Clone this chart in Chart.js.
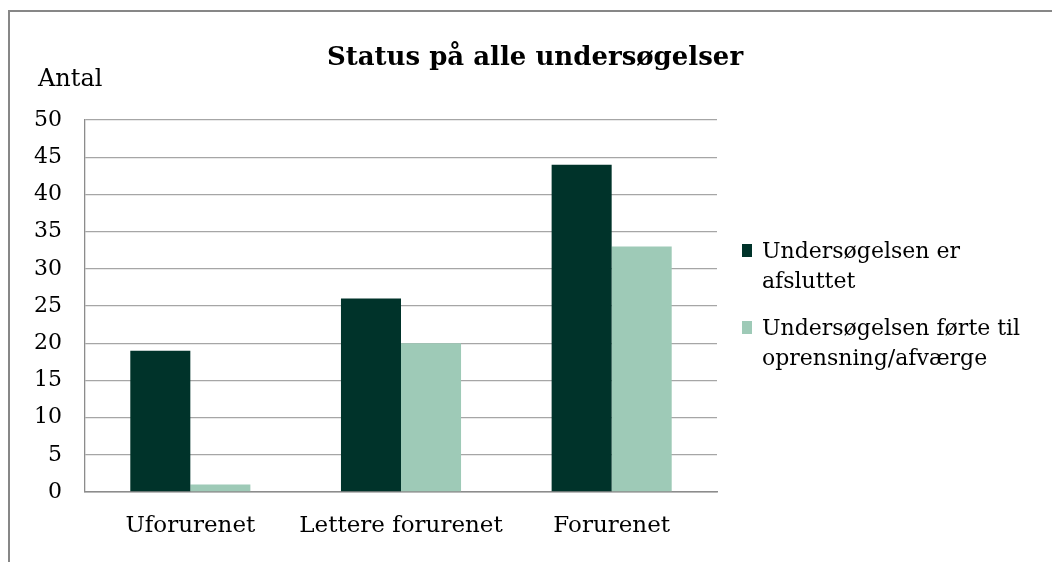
<!DOCTYPE html>
<html>
<head>
<meta charset="utf-8">
<script src="https://cdn.jsdelivr.net/npm/chart.js@4/dist/chart.umd.min.js"></script>
<style>
  html, body { margin: 0; padding: 0; background: #ffffff; }
  #wrap { width: 1052px; height: 562px; position: relative; }
</style>
</head>
<body>
<div id="wrap"><canvas id="c" width="1052" height="562"></canvas></div>
<script>
const titleText = 'Status på alle undersøgelser';
const yAxisTitle = 'Antal';
const categories = ['Uforurenet', 'Lettere forurenet', 'Forurenet'];
const seriesNames = [['Undersøgelsen er', 'afsluttet'], ['Undersøgelsen førte til', 'oprensning/afværge']];
const afsluttet = [19, 26, 44];
const oprensning = [1, 20, 33];
const yMin = 0, yMax = 50, yStep = 5;
const colors = ['#00332a', '#9ecab7'];

const FONT = '"DejaVu Serif", Georgia, serif';

const decor = {
  id: 'decor',
  beforeDraw(chart) {
    const ctx = chart.ctx;
    ctx.save();
    ctx.fillStyle = '#ffffff';
    ctx.fillRect(0, 0, chart.width, chart.height);
    ctx.strokeStyle = '#878787';
    ctx.lineWidth = 2;
    ctx.strokeRect(9, 11, 1200, 800);
    ctx.restore();
  },
  afterDraw(chart) {
    const ctx = chart.ctx;
    ctx.save();
    ctx.fillStyle = '#000000';
    // title
    ctx.font = 'bold 26px ' + FONT;
    ctx.textAlign = 'center';
    ctx.textBaseline = 'alphabetic';
    ctx.fillText(titleText, 535, 65);
    // axis title
    ctx.font = '24px ' + FONT;
    ctx.textAlign = 'left';
    ctx.fillText(yAxisTitle, 38, 86);
    // legend
    ctx.font = '22px ' + FONT;
    const starts = [258, 335];
    chart.data.datasets.forEach((ds, i) => {
      const base = starts[i];
      ctx.fillStyle = ds.backgroundColor;
      ctx.fillRect(742, base - 14, 10, 13);
      ctx.fillStyle = '#000000';
      seriesNames[i].forEach((line, j) => {
        ctx.fillText(line, 762, base + j * 30);
      });
    });
    ctx.restore();
  }
};

const yTickValues = [];
for (let v = yMin; v <= yMax; v += yStep) yTickValues.push(v);

new Chart(document.getElementById('c'), {
  type: 'bar',
  data: {
    labels: categories,
    datasets: [
      { label: seriesNames[0].join(' '), data: afsluttet, backgroundColor: colors[0], categoryPercentage: 0.57, barPercentage: 1.0 },
      { label: seriesNames[1].join(' '), data: oprensning, backgroundColor: colors[1], categoryPercentage: 0.57, barPercentage: 1.0 }
    ]
  },
  options: {
    responsive: false,
    animation: false,
    devicePixelRatio: 1,
    layout: { padding: { top: 120, right: 335, left: 0, bottom: 0 } },
    plugins: { legend: { display: false }, title: { display: false }, tooltip: { enabled: false } },
    scales: {
      x: {
        grid: { display: false },
        border: { color: '#8c8c8c', width: 1.5 },
        ticks: { color: '#000000', font: { family: FONT, size: 23 }, padding: 12, maxRotation: 0, minRotation: 0, autoSkip: false },
        afterFit(scale) { scale.height = 70; }
      },
      y: {
        min: yMin, max: yMax,
        afterBuildTicks(scale) { scale.ticks = yTickValues.map(v => ({ value: v })); },
        grid: { color: '#a6a6a6', lineWidth: 1.3, tickLength: 0, drawTicks: false },
        border: { color: '#8c8c8c', width: 1.3 },
        ticks: { color: '#000000', font: { family: FONT, size: 22 }, padding: 23 },
        afterFit(scale) { scale.width = 85; }
      }
    }
  },
  plugins: [decor]
});
</script>
</body>
</html>
